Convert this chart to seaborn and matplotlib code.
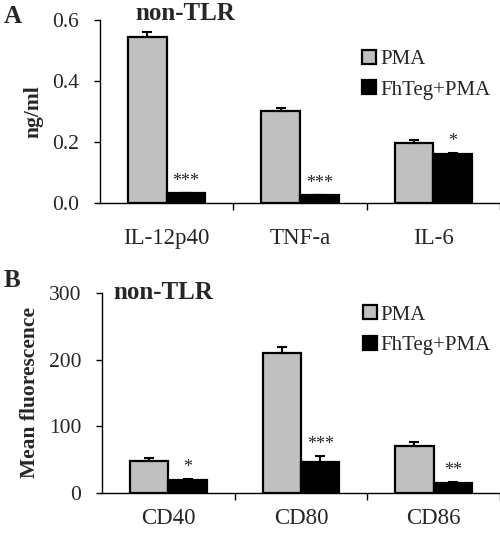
import numpy as np
import pandas as pd
import matplotlib
matplotlib.use('Agg')
import matplotlib.pyplot as plt
import seaborn as sns
from matplotlib.patches import Patch

# podaci procitani sa slike
cyto = ['IL-12p40', 'TNF-a', 'IL-6']
cyto_pma = [0.545, 0.300, 0.195]
cyto_pma_err = [0.015, 0.010, 0.010]
cyto_teg = [0.032, 0.025, 0.160]
cyto_teg_err = [0.002, 0.002, 0.004]
cyto_stars = ['***', '***', '*']

markers = ['CD40', 'CD80', 'CD86']
mark_pma = [48, 210, 70]
mark_pma_err = [4, 9, 6]
mark_teg = [19, 46, 15]
mark_teg_err = [2, 10, 2]
mark_stars = ['*', '***', '**']

groups = ['PMA', 'FhTeg+PMA']
colors = ['#c0c0c0', '#000000']

sns.set_style('white')
plt.rcParams['font.family'] = ['Liberation Serif', 'DejaVu Serif']

fig = plt.figure(figsize=(5, 5.34), dpi=100)


def panel(rect, cats, pma, pma_err, teg, teg_err, stars, ylim, yticks, yfmt, ylabel,
          ylab_fs, xpad, leg_y):
    ax = fig.add_axes(rect)
    df = pd.DataFrame({
        'cat': cats * 2,
        'grp': [groups[0]] * 3 + [groups[1]] * 3,
        'val': pma + teg,
    })
    sns.barplot(data=df, x='cat', y='val', hue='grp', palette=colors, width=0.58,
                edgecolor='black', linewidth=1.6, errorbar=None, legend=False, ax=ax)
    errs = pma_err + teg_err
    vals = pma + teg
    bars = ax.patches[:6]
    for b, v, e in zip(bars, vals, errs):
        xc = b.get_x() + b.get_width() / 2
        ax.errorbar(xc, v, yerr=[[0], [e]], fmt='none', ecolor='black',
                    elinewidth=1.5, capsize=3.5, capthick=1.5, zorder=3)
    for b, v, e, s in zip(bars[3:], teg, teg_err, stars):
        xc = b.get_x() + b.get_width() / 2
        ax.annotate(s, (xc, v + e), xytext=(0, 2), textcoords='offset points',
                    ha='center', va='bottom', fontsize=13)
    ax.set_xlim(-0.5, 2.5)
    ax.set_ylim(*ylim)
    ax.set_yticks(yticks)
    ax.set_yticklabels([yfmt.format(t) for t in yticks], fontsize=15.5)
    ax.set_xticks([0, 1, 2])
    ax.set_xticklabels(cats, fontsize=16.5)
    ax.set_xticks([0.5, 1.5, 2.5], minor=True)
    ax.tick_params(axis='x', which='major', length=0, pad=xpad)
    ax.tick_params(axis='x', which='minor', direction='out', length=5, width=1, color='black', bottom=True)
    ax.tick_params(axis='y', direction='out', length=4, width=1, color='black', left=True, pad=11)
    ax.set_xlabel('')
    ax.set_ylabel(ylabel, fontsize=ylab_fs, fontweight='bold', labelpad=6)
    for sp in ['top', 'right']:
        ax.spines[sp].set_visible(False)
    for sp in ['left', 'bottom']:
        ax.spines[sp].set_color('black')
        ax.spines[sp].set_linewidth(1)
    handles = [Patch(facecolor=c, edgecolor='black', linewidth=1.6) for c in colors]
    ax.legend(handles, groups, loc='upper left', bbox_to_anchor=(0.635, leg_y), frameon=False,
              fontsize=15, handlelength=0.65, handleheight=0.65, handletextpad=0.2,
              labelspacing=0.55, borderaxespad=0)
    return ax


axA = panel([0.2, 0.62, 0.8, 0.3425], cyto, cyto_pma, cyto_pma_err, cyto_teg, cyto_teg_err,
            cyto_stars, (0, 0.6), [0.0, 0.2, 0.4, 0.6], '{:.1f}', 'ng/ml', 15.5, 18, 0.883)
axB = panel([0.204, 0.0768, 0.796, 0.3745], markers, mark_pma, mark_pma_err, mark_teg, mark_teg_err,
            mark_stars, (0, 300), [0, 100, 200, 300], '{:.0f}', 'Mean fluorescence', 15.5, 11, 0.98)

fig.text(0.27, 0.974, 'non-TLR', fontsize=18, fontweight='bold', ha='left', va='center')
fig.text(0.226, 0.452, 'non-TLR', fontsize=18, fontweight='bold', ha='left', va='center')
fig.text(0.008, 0.99, 'A', fontsize=18, fontweight='bold', ha='left', va='top')
fig.text(0.008, 0.497, 'B', fontsize=18, fontweight='bold', ha='left', va='top')

fig.savefig('out.png', dpi=100)
